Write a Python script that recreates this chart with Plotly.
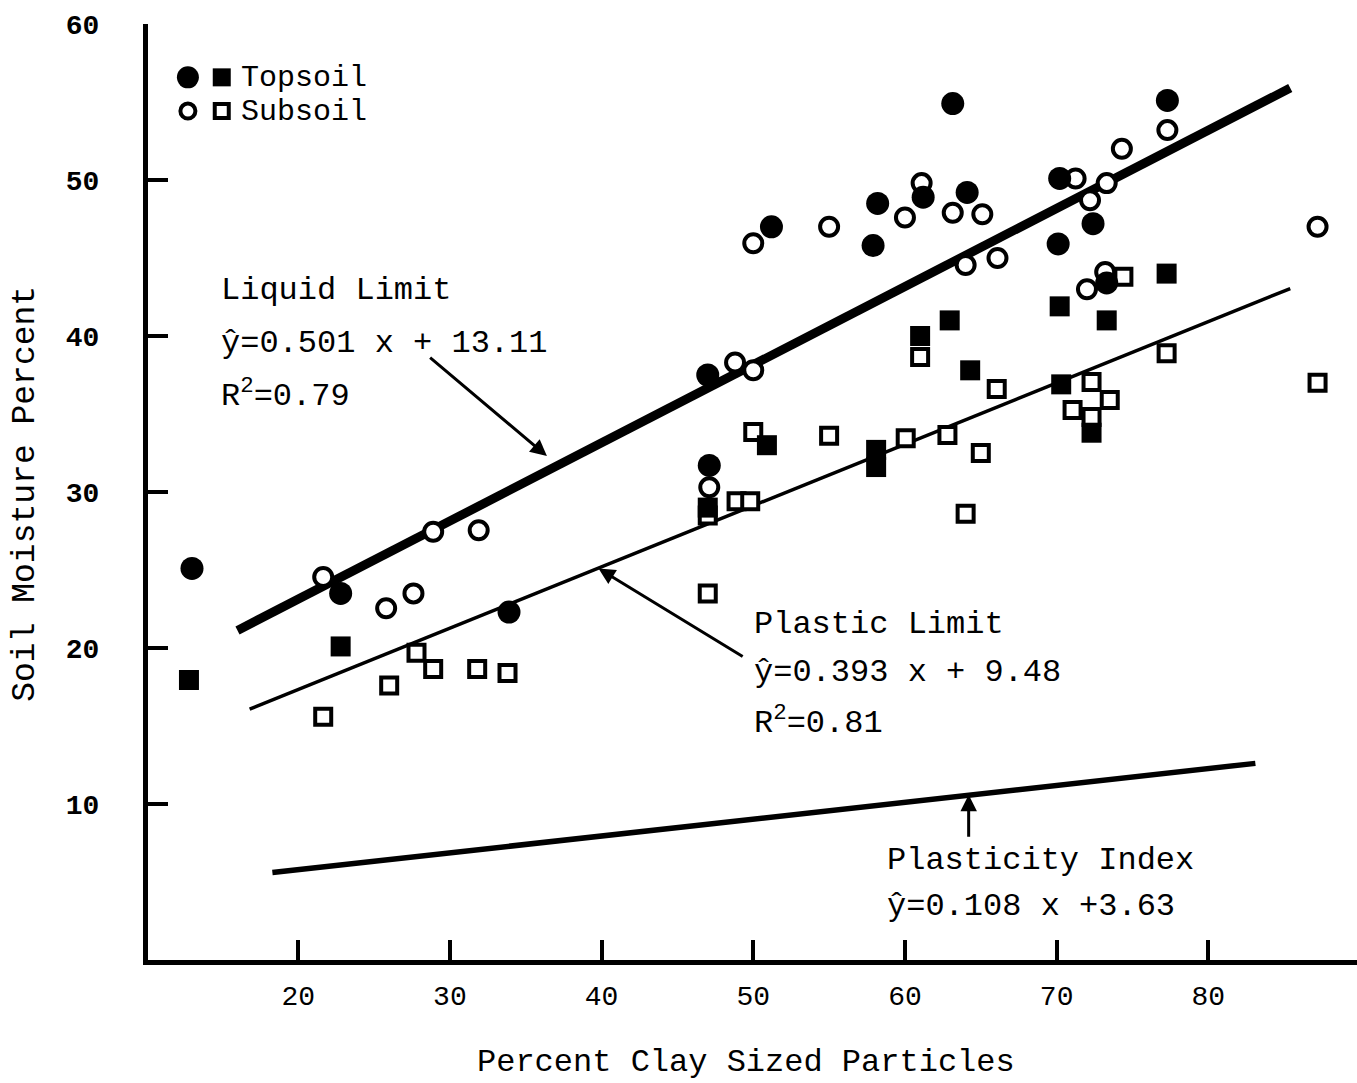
import plotly.graph_objects as go

# Liquid limit observations: percent clay vs. soil moisture percent
ll_top_x = [13.0, 22.8, 33.9, 47.0, 47.1, 51.2, 57.9, 58.2, 61.2, 63.15, 64.1, 70.2, 70.1, 72.4, 73.3, 77.3]
ll_top_y = [25.1, 23.5, 22.3, 37.5, 31.7, 47.0, 45.8, 48.5, 48.9, 54.9, 49.2, 50.1, 45.9, 47.2, 43.4, 55.1]

ll_sub_x = [21.65, 25.8, 27.6, 28.9, 31.9, 47.1, 48.8, 50.0, 50.0, 55.0, 60.0, 61.1, 63.15, 65.1,
            64.0, 66.1, 71.25, 74.3, 77.3, 73.3, 72.2, 73.2, 72.0, 87.2]
ll_sub_y = [24.55, 22.55, 23.5, 27.45, 27.55, 30.3, 38.3, 37.8, 45.95, 47.0, 47.6, 49.8, 47.9, 47.8,
            44.55, 45.0, 50.1, 52.0, 53.2, 49.8, 48.7, 44.1, 43.0, 47.0]

# Plastic limit observations
pl_top_x = [12.8, 22.8, 47.0, 50.9, 58.1, 58.1, 61.0, 62.95, 64.3, 70.2, 70.3, 72.3, 73.3, 77.25]
pl_top_y = [17.95, 20.1, 29.0, 33.0, 32.7, 31.6, 40.0, 41.0, 37.8, 41.9, 36.9, 33.8, 41.0, 44.0]

pl_sub_x = [21.65, 26.0, 27.8, 28.9, 31.8, 33.8, 47.0, 47.0, 48.9, 49.8, 50.0, 55.0, 60.05, 62.8,
            61.0, 65.0, 64.0, 66.05, 71.05, 72.3, 72.3, 73.5, 74.4, 77.25, 87.2]
pl_sub_y = [15.6, 17.6, 19.7, 18.65, 18.65, 18.4, 23.5, 28.5, 29.4, 29.4, 33.85, 33.6, 33.45, 33.65,
            38.65, 32.5, 28.6, 36.6, 35.25, 37.05, 34.8, 35.9, 43.8, 38.9, 37.0]

# Regression fits (slope, intercept) and the clay range each line spans
ll_slope, ll_intercept, ll_x_span = 0.501, 13.11, [16.0, 85.4]
pl_slope, pl_intercept, pl_x_span = 0.393, 9.48, [16.8, 85.4]
pi_slope, pi_intercept, pi_x_span = 0.108, 3.63, [18.3, 83.1]

x_ticks = [20, 30, 40, 50, 60, 70, 80]
y_ticks = [10, 20, 30, 40, 50, 60]

FONT = "Liberation Mono, Courier New, monospace"
INK = "black"


def fit_line(slope, intercept, span):
    return span, [slope * v + intercept for v in span]


fig = go.Figure()

# fitted lines
for slope, intercept, span, width in [
    (ll_slope, ll_intercept, ll_x_span, 9),
    (pl_slope, pl_intercept, pl_x_span, 3.5),
    (pi_slope, pi_intercept, pi_x_span, 5.5),
]:
    xs, ys = fit_line(slope, intercept, span)
    fig.add_trace(go.Scatter(x=xs, y=ys, mode="lines",
                             line=dict(color=INK, width=width),
                             hoverinfo="skip", showlegend=False))

open_circle = dict(symbol="circle", size=18, color="white", opacity=1, line=dict(color=INK, width=4))
open_square = dict(symbol="square", size=16, color="white", opacity=1, line=dict(color=INK, width=4))
solid_circle = dict(symbol="circle", size=23, color=INK, opacity=1, line=dict(color=INK, width=0))
solid_square = dict(symbol="square", size=20, color=INK, opacity=1, line=dict(color=INK, width=0))

fig.add_trace(go.Scatter(x=ll_sub_x, y=ll_sub_y, mode="markers", marker=open_circle,
                         name="Subsoil liquid limit", showlegend=False))
fig.add_trace(go.Scatter(x=pl_sub_x, y=pl_sub_y, mode="markers", marker=open_square,
                         name="Subsoil plastic limit", showlegend=False))
fig.add_trace(go.Scatter(x=ll_top_x, y=ll_top_y, mode="markers", marker=solid_circle,
                         name="Topsoil liquid limit", showlegend=False))
fig.add_trace(go.Scatter(x=pl_top_x, y=pl_top_y, mode="markers", marker=solid_square,
                         name="Topsoil plastic limit", showlegend=False))

# key in the upper-left corner (plot-area fractions on an overlay axis)
key_col_x = [0.033, 0.061]
key_row_y = [0.943, 0.907]
key_text_x = 0.075
fig.add_trace(go.Scatter(x=key_col_x, y=[key_row_y[0]] * 2, xaxis="x2", yaxis="y2", mode="markers",
                         marker=dict(symbol=["circle", "square"], size=[22, 18], color=INK,
                                     opacity=1, line=dict(color=INK, width=0)),
                         hoverinfo="skip", showlegend=False))
fig.add_trace(go.Scatter(x=key_col_x, y=[key_row_y[1]] * 2, xaxis="x2", yaxis="y2", mode="markers",
                         marker=dict(symbol=["circle", "square"], size=[15, 14], color="white",
                                     opacity=1, line=dict(color=INK, width=4)),
                         hoverinfo="skip", showlegend=False))

annotations = []
for label, row in [("Topsoil", 0), ("Subsoil", 1)]:
    annotations.append(dict(x=key_text_x, y=key_row_y[row], xref="x2", yref="y2", text=label,
                            showarrow=False, xanchor="left", yanchor="middle", yshift=-1,
                            font=dict(family=FONT, size=30, color=INK)))

# regression labels (left edge, vertical centre of each text line)
label_lines = [
    (14.75, 42.9, "Liquid Limit"),
    (14.75, 39.55, "ŷ=0.501 x + 13.11"),
    (14.75, 36.3, "R<sup>2</sup>=0.79"),
    (49.9, 21.5, "Plastic Limit"),
    (49.9, 18.4, "ŷ=0.393 x + 9.48"),
    (49.9, 15.3, "R<sup>2</sup>=0.81"),
    (58.7, 6.4, "Plasticity Index"),
    (58.7, 3.4, "ŷ=0.108 x +3.63"),
]
for lx, ly, txt in label_lines:
    annotations.append(dict(x=lx, y=ly, xref="x", yref="y", text=txt, showarrow=False,
                            xanchor="left", yanchor="middle",
                            font=dict(family=FONT, size=32, color=INK)))

# pointer arrows: (head x, head y, tail x, tail y)
arrows = [
    (36.4, 32.3, 28.6, 38.7),
    (39.8, 25.1, 49.4, 19.4),
    (64.2, 10.6, 64.2, 7.8),
]
for hx, hy, tx, ty in arrows:
    annotations.append(dict(x=hx, y=hy, ax=tx, ay=ty, xref="x", yref="y", axref="x", ayref="y",
                            text="", showarrow=True, arrowhead=2, arrowsize=1.1,
                            arrowwidth=3, arrowcolor=INK, standoff=0))

# axis titles
annotations.append(dict(x=-0.101, y=0.498, xref="paper", yref="paper", text="Soil Moisture Percent",
                        textangle=-90, showarrow=False, xanchor="center", yanchor="middle",
                        font=dict(family=FONT, size=33, color=INK)))
annotations.append(dict(x=0.4946, y=-0.109, xref="paper", yref="paper",
                        text="Percent Clay Sized Particles", showarrow=False,
                        xanchor="center", yanchor="middle",
                        font=dict(family=FONT, size=32, color=INK)))

fig.update_layout(
    width=1357, height=1083,
    margin=dict(l=148, r=0, t=24, b=123),
    paper_bgcolor="white", plot_bgcolor="white",
    showlegend=False,
    annotations=annotations,
    xaxis=dict(range=[10.1, 89.8], tickvals=x_ticks, ticktext=[str(v) for v in x_ticks],
               ticks="inside", ticklen=20, tickwidth=4, tickcolor=INK,
               showline=True, linewidth=5, linecolor=INK, showgrid=False, zeroline=False,
               ticklabelstandoff=6,
               tickfont=dict(family=FONT, size=28, color=INK)),
    yaxis=dict(range=[0, 60], tickvals=y_ticks, ticktext=[str(v) for v in y_ticks],
               ticks="inside", ticklen=20, tickwidth=4, tickcolor=INK,
               showline=True, linewidth=5, linecolor=INK, showgrid=False, zeroline=False,
               ticklabelstandoff=38,
               tickfont=dict(family=FONT, size=28, color=INK, weight="bold")),
    xaxis2=dict(range=[0, 1], overlaying="x", visible=False, fixedrange=True),
    yaxis2=dict(range=[0, 1], overlaying="y", visible=False, fixedrange=True),
)

fig.write_html("out.html")
